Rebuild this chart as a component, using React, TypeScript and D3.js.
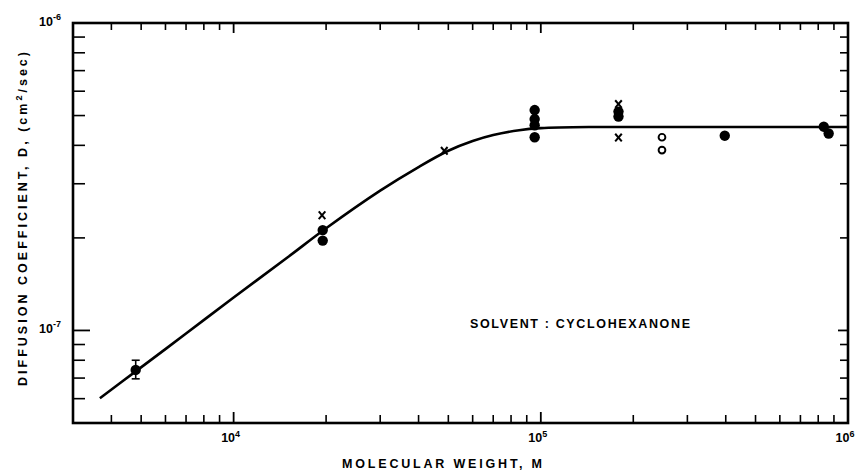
import React from "react";
import * as d3 from "d3";

// Fitted curve
const curveM = [3670, 4800, 7000, 10000, 15000, 20000, 30000, 40000, 50000, 60000, 70000, 85000, 100000, 150000, 300000, 1000000];
const curveD = [6.02e-8, 7.36e-8, 9.77e-8, 1.28e-7, 1.73e-7, 2.15e-7, 2.85e-7, 3.4e-7, 3.84e-7, 4.13e-7, 4.32e-7, 4.48e-7, 4.55e-7, 4.59e-7, 4.59e-7, 4.59e-7];

// Filled circles
const filledM = [4800, 19500, 19500, 95500, 95500, 95500, 95500, 179000, 179000, 397000, 834000, 865000];
const filledD = [7.44e-8, 2.12e-7, 1.96e-7, 5.21e-7, 4.87e-7, 4.65e-7, 4.25e-7, 5.15e-7, 4.96e-7, 4.3e-7, 4.6e-7, 4.37e-7];

// Crosses
const crossM = [19400, 48500, 179000, 179000];
const crossD = [2.37e-7, 3.84e-7, 5.45e-7, 4.24e-7];

// Open circles
const openM = [248000, 248000];
const openD = [4.25e-7, 3.86e-7];

// Error bar
const errM = [4800];
const errLow = [6.96e-8];
const errHigh = [8.0e-8];

const xTickMajors = [1e4, 1e5, 1e6];
const xTickLabels = ["4", "5", "6"];
const yTickMajors = [1e-7, 1e-6];
const yTickLabels = ["-7", "-6"];

const W = 860, H = 473;
const L = 73, R = 848, T = 23, B = 423;
const ink = "#000";
const font = "'Liberation Sans', Arial, sans-serif";

export default function App() {
  const x = d3.scaleLog().domain([3000, 1e6]).range([L, R]);
  const y = d3.scaleLog().domain([5e-8, 1e-6]).range([B, T]);

  const xMinor: number[] = [];
  for (let e = 3; e < 6; e++) for (let k = 2; k <= 9; k++) {
    const v = k * Math.pow(10, e);
    if (v >= 3000 && v <= 1e6) xMinor.push(v);
  }
  const yMinor: number[] = [];
  for (let e = -8; e < -6; e++) for (let k = 2; k <= 9; k++) {
    const v = k * Math.pow(10, e);
    if (v > 5e-8 && v < 1e-6) yMinor.push(v);
  }

  const line = d3.line<number>()
    .x((_, i) => x(curveM[i]))
    .y((d) => y(d))
    .curve(d3.curveCatmullRom.alpha(0.5));

  const cs = 3.8;
  return (
    <svg width={W} height={H} style={{ position: "absolute", left: 0, top: 0, background: "#fff" }}>
      <rect x={0} y={0} width={W} height={H} fill="#fff" />
      {/* frame */}
      <rect x={L} y={T} width={R - L} height={B - T} fill="none" stroke={ink} strokeWidth={2.6} />
      {/* x ticks */}
      {xMinor.map((v, i) => (
        <g key={"xm" + i}>
          <line x1={x(v)} x2={x(v)} y1={B} y2={B - 8} stroke={ink} strokeWidth={1.6} />
          <line x1={x(v)} x2={x(v)} y1={T} y2={T + 7} stroke={ink} strokeWidth={1.6} />
        </g>
      ))}
      {xTickMajors.map((v, i) => (
        <g key={"xM" + i}>
          <line x1={x(v)} x2={x(v)} y1={B} y2={B - 11} stroke={ink} strokeWidth={1.8} />
          <line x1={x(v)} x2={x(v)} y1={T} y2={T + 10} stroke={ink} strokeWidth={1.8} />
          <text x={x(v) - 3} y={442} fontFamily={font} fontWeight="bold" fontSize={12.5} textAnchor="middle" fill={ink}>
            10<tspan dy={-5} fontSize={9}>{xTickLabels[i]}</tspan>
          </text>
        </g>
      ))}
      {/* y ticks */}
      {yMinor.map((v, i) => (
        <g key={"ym" + i}>
          <line x1={L} x2={L + 12} y1={y(v)} y2={y(v)} stroke={ink} strokeWidth={1.6} />
          <line x1={R} x2={R - 8} y1={y(v)} y2={y(v)} stroke={ink} strokeWidth={1.6} />
        </g>
      ))}
      {yTickMajors.map((v, i) => (
        <g key={"yM" + i}>
          <line x1={L} x2={L + 17} y1={y(v)} y2={y(v)} stroke={ink} strokeWidth={1.8} />
          <line x1={R} x2={R - 10} y1={y(v)} y2={y(v)} stroke={ink} strokeWidth={1.8} />
          <text x={39} y={y(v) + 3} fontFamily={font} fontWeight="bold" fontSize={12.5} fill={ink}>
            10<tspan dy={-6} fontSize={9}>{yTickLabels[i]}</tspan>
          </text>
        </g>
      ))}
      {/* curve */}
      <path d={line(curveD) || ""} fill="none" stroke={ink} strokeWidth={2.6} />
      {/* error bar */}
      {errM.map((m, i) => (
        <g key={"e" + i} stroke={ink} strokeWidth={1.6}>
          <line x1={x(m)} x2={x(m)} y1={y(errHigh[i])} y2={y(errLow[i])} />
          <line x1={x(m) - 4} x2={x(m) + 4} y1={y(errHigh[i])} y2={y(errHigh[i])} />
          <line x1={x(m) - 4} x2={x(m) + 4} y1={y(errLow[i])} y2={y(errLow[i])} />
        </g>
      ))}
      {/* filled */}
      {filledM.map((m, i) => (
        <circle key={"f" + i} cx={x(m)} cy={y(filledD[i])} r={5.2} fill={ink} />
      ))}
      {/* open */}
      {openM.map((m, i) => (
        <circle key={"o" + i} cx={x(m)} cy={y(openD[i])} r={3.4} fill="#fff" stroke={ink} strokeWidth={1.9} />
      ))}
      {/* crosses */}
      {crossM.map((m, i) => (
        <g key={"c" + i} stroke={ink} strokeWidth={2}>
          <line x1={x(m) - cs + 0.5} x2={x(m) + cs - 0.5} y1={y(crossD[i]) - cs} y2={y(crossD[i]) + cs} />
          <line x1={x(m) - cs + 0.5} x2={x(m) + cs - 0.5} y1={y(crossD[i]) + cs} y2={y(crossD[i]) - cs} />
        </g>
      ))}
      {/* annotation */}
      <text x={470} y={328} fontFamily={font} fontWeight="bold" fontSize={12.5} textLength={220} lengthAdjust="spacing" fill={ink}>
        SOLVENT : CYCLOHEXANONE
      </text>
      {/* axis titles */}
      <text x={342} y={468} fontFamily={font} fontWeight="bold" fontSize={12.5} textLength={200} lengthAdjust="spacing" fill={ink}>
        MOLECULAR WEIGHT,  M
      </text>
      <text transform="translate(27,386) rotate(-90)" fontFamily={font} fontWeight="bold" fontSize={12.5} fill={ink}
        textLength={334} lengthAdjust="spacing">
        DIFFUSION  COEFFICIENT,  D,  (cm<tspan dy={-5} fontSize={9}>2</tspan><tspan dy={5}>/sec)</tspan>
      </text>
    </svg>
  );
}
